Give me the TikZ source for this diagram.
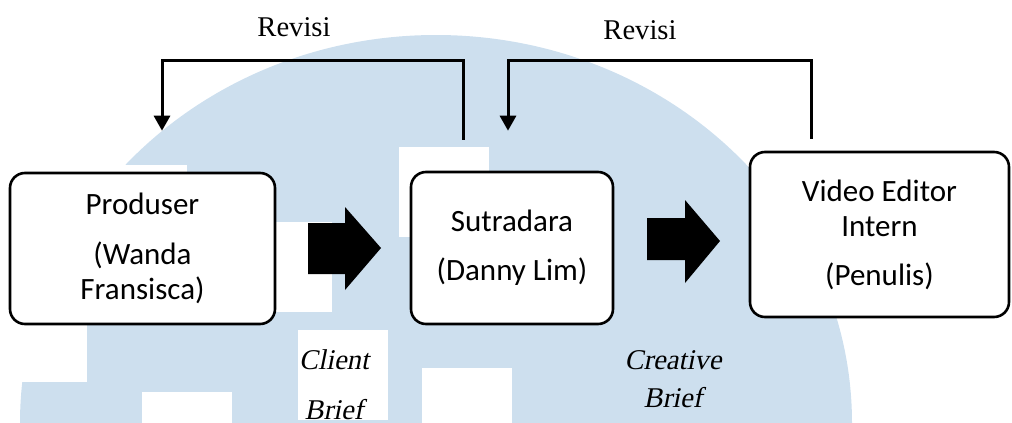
\documentclass[tikz,border=0pt]{standalone}
\usepackage{fontspec}
\setmainfont{Liberation Serif}
\newfontfamily\calibri{Carlito}
\newfontfamily\miring{Liberation Serif}[FakeSlant=0.2]
\usepackage{tikz}
\usetikzlibrary{arrows.meta}
\definecolor{logoblue}{RGB}{205,223,238}

\begin{document}
\begin{tikzpicture}[x=0.5pt, y=-0.5pt,
		kotak/.style={draw, line width=1.3pt, rounded corners=7.5pt, fill=white, align=center, inner sep=0pt,
			font=\calibri\fontsize{15.5}{17.5}\selectfont},
		revisi/.style={line width=1.5pt, -{Triangle[length=7.5pt, width=8pt]}},
		teks/.style={align=center, font=\fontsize{14.3}{16.5}\selectfont},
		brief/.style={align=center, font=\miring\fontsize{14.3}{16.5}\selectfont}]
			\useasboundingbox (0,0) rectangle (1012,423);
			% logo di belakang
			\begin{scope}
				\clip (0,0) rectangle (1012,423);
				\fill[logoblue] (436,423) ellipse [x radius=208pt, y radius=194pt];
				\foreach \x/\y in {97/165, 242/222, 399/147, -3/292, 298/330, 142/392, 422/368}
					\fill[white] (\x, \y) rectangle + (90, 90);
			\end{scope}
			\node[kotak, minimum width=132.5pt, minimum height=75.5pt] (produser) at (142.5, 248.5) {Produser\\[7.5pt](Wanda\\Fransisca)};
			\node[kotak, minimum width=101pt, minimum height=76pt] (sutradara) at (512, 248) {Sutradara\\[7pt](Danny Lim)};
			\node[kotak, minimum width=129.5pt, minimum height=82.5pt] (editor) at (879.5, 234.5) {Video Editor\\Intern\\[7pt](Penulis)};
			\fill (308, 223) -- (345, 223) -- (345, 207) -- (381, 248) -- (345, 290) -- (345, 274) -- (308, 274) -- cycle;
			\fill (647, 218) -- (685, 218) -- (685, 200) -- (720, 241) -- (685, 283) -- (685, 260) -- (647, 260) -- cycle;
			\coordinate (revA) at ([xshift=-24.5pt, yshift=15.5pt]sutradara.north);
			\coordinate (revB) at ([xshift=9.75pt, yshift=20.5pt]produser.north);
			\coordinate (revC) at ([xshift=-34pt, yshift=6pt]editor.north);
			\coordinate (revD) at ([xshift=-2pt, yshift=20pt]sutradara.north);
			\draw[revisi] (revA) -- ++(0, -79) -| (revB);
			\draw[revisi] (revC) -- ++(0, -78) -| (revD);
			\node[teks] (revisi1) at (294, 27) {Revisi};
			\node[teks] (revisi2) at (640, 30) {Revisi};
			\node[brief] (client) at (334, 385) {Client\\[8.5pt]Brief};
			\node[brief] (creative) at (673, 379) {Creative\\[2.5pt]Brief};
		\end{tikzpicture}
\end{document}
